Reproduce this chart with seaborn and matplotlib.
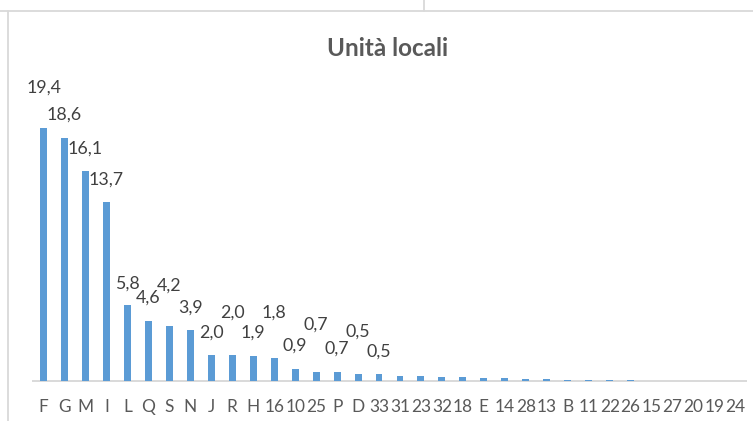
import matplotlib
matplotlib.use("Agg")
import matplotlib.pyplot as plt
from matplotlib.lines import Line2D
import seaborn as sns
import pandas as pd

# Unità locali per settore (%)
settori = ["F", "G", "M", "I", "L", "Q", "S", "N", "J", "R", "H", "16", "10", "25",
           "P", "D", "33", "31", "23", "32", "18", "E", "14", "28", "13", "B", "11",
           "22", "26", "15", "27", "20", "19", "24"]
quote = [19.4, 18.6, 16.1, 13.7, 5.8, 4.6, 4.2, 3.9, 2.0, 2.0, 1.9, 1.8, 0.9, 0.7,
         0.7, 0.5, 0.5, 0.4, 0.4, 0.3, 0.3, 0.2, 0.2, 0.15, 0.12, 0.08, 0.07,
         0.06, 0.05, 0.0, 0.0, 0.0, 0.0, 0.0]
n_etichettati = 17  # only the largest sectors carry a value label

# label lift above each bar top (pixels), alternating to avoid overlaps
label_lift = [40, 24, 22, 23, 22, 23, 41, 22, 22, 42, 24, 45, 24, 47, 23, 43, 23]

df = pd.DataFrame({"settore": settori, "quota": quote})

sns.set_theme(style="white")
plt.rcParams["font.family"] = ["Lato", "DejaVu Sans"]

W, H = 753, 421
fig = plt.figure(figsize=(W / 100, H / 100), dpi=100)
fig.patch.set_facecolor("white")

# plot area in pixel terms: baseline at y=381, 13.05 px per unit
left_px, right_px, base_px, top_px = 33, 746, 381, 80
ax = fig.add_axes([left_px / W, (H - base_px) / H,
                   (right_px - left_px) / W, (base_px - top_px) / H])

sns.barplot(data=df, x="settore", y="quota", order=settori, color="#5B9BD5",
            saturation=1, width=0.33, ax=ax, linewidth=0, zorder=2)

ax.set_xlim(-0.5, len(settori) - 0.5)
ax.set_ylim(0, (base_px - top_px) / 13.05)
ax.set_xlabel("")
ax.set_ylabel("")
ax.set_yticks([])
for side in ["left", "right", "top"]:
    ax.spines[side].set_visible(False)
ax.spines["bottom"].set_color("#D9D9D9")
ax.spines["bottom"].set_linewidth(1.4)
ax.spines["bottom"].set_zorder(1)
ax.tick_params(axis="x", length=0, pad=13, labelsize=12.4, labelcolor="#595959")
ax.set_facecolor("white")

for i in range(n_etichettati):
    v = quote[i]
    ax.annotate(f"{v:.1f}".replace(".", ","), (i, v), xytext=(0, label_lift[i]),
                textcoords="offset pixels", ha="center", va="center",
                fontsize=12.8, color="#404040")

fig.text(387.5 / W, 1 - 49 / H, "Unità locali", ha="center", va="center",
         fontsize=17.5, fontweight="bold", color="#595959")

# frame of the chart box and the grid line above it
frame_kw = dict(color="#D9D9D9", linewidth=1.3, transform=fig.transFigure)
fig.add_artist(Line2D([8 / W, 8 / W], [0, 1 - 11 / H], **frame_kw))
fig.add_artist(Line2D([0, 1], [1 - 11 / H, 1 - 11 / H], **frame_kw))
fig.add_artist(Line2D([424 / W, 424 / W], [1 - 11 / H, 1], **frame_kw))

fig.savefig("out.png", dpi=100, facecolor="white")
